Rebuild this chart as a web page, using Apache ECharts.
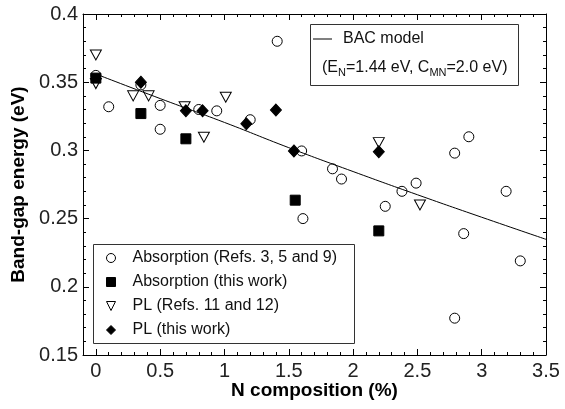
<!DOCTYPE html>
<html>
<head>
<meta charset="utf-8">
<script src="https://cdn.jsdelivr.net/npm/echarts@6/dist/echarts.min.js"></script>
<style>
html,body{margin:0;padding:0;background:#fff;}
#c{width:565px;height:409px;}
</style>
</head>
<body>
<div id="c"></div>
<script>
// Absorption (Refs. 3, 5 and 9) - open circles
const absRefs = [
  [0, 0.355], [0.1, 0.332], [0.35, 0.348], [0.5, 0.333], [0.5, 0.3155],
  [0.8, 0.330], [0.94, 0.329], [1.2, 0.3225], [1.41, 0.380], [1.6, 0.2996],
  [1.61, 0.250], [1.84, 0.2865], [1.91, 0.279], [2.25, 0.259], [2.38, 0.270],
  [2.49, 0.276], [2.79, 0.298], [2.79, 0.177], [2.86, 0.239], [2.9, 0.310],
  [3.19, 0.270], [3.3, 0.219]
];
// Absorption (this work) - filled squares
const absThis = [[0, 0.353], [0.35, 0.327], [0.7, 0.3085], [1.55, 0.2635], [2.2, 0.241]];
// PL (Refs. 11 and 12) - open down triangles
const plRefs = [
  [0, 0.370], [0, 0.349], [0.29, 0.340], [0.41, 0.340], [0.69, 0.332],
  [0.84, 0.3096], [1.01, 0.339], [2.2, 0.3057], [2.52, 0.260]
];
// PL (this work) - filled diamonds
const plThis = [[0.35, 0.350], [0.7, 0.329], [0.83, 0.329], [1.17, 0.3195], [1.4, 0.3296], [1.54, 0.2996], [2.2, 0.299]];
// BAC model curve
const bacX = [0, 0.5, 1, 1.5, 2, 2.5, 3, 3.5];
const bacY = [0.356, 0.338, 0.3205, 0.302, 0.2845, 0.2675, 0.251, 0.2348];

const xTickValues = [0, 0.5, 1, 1.5, 2, 2.5, 3, 3.5];
const yTickValues = [0.15, 0.2, 0.25, 0.3, 0.35, 0.4];

const FONT = 'Liberation Sans';
const chart = echarts.init(document.getElementById('c'), null, {renderer: 'canvas'});

const gridL = 83, gridR = 19, gridT = 14, gridB = 54;
const plotW = 565 - gridL - gridR;
const xMinMain = -0.1, xMaxMain = 3.5;
const grid2L = gridL + plotW * (0 - xMinMain) / (xMaxMain - xMinMain);

const openStyle = {color: 'rgba(255,255,255,0)', borderColor: '#000', borderWidth: 1, opacity: 1};
const fillStyle = {color: '#000', borderColor: '#000', borderWidth: 1, opacity: 1};
const downTri = 'path://M0,0 L10,0 L5,10 Z';

chart.setOption({
  animation: false,
  textStyle: {fontFamily: FONT},
  grid: [
    {left: gridL, right: gridR, top: gridT, bottom: gridB},
    {left: grid2L, right: gridR, top: gridT, bottom: gridB}
  ],
  xAxis: [
    {
      gridIndex: 0, type: 'value', min: xMinMain, max: xMaxMain, position: 'bottom',
      axisLine: {show: true, onZero: false, lineStyle: {color: '#000', width: 1}},
      axisTick: {show: false}, axisLabel: {show: false}, splitLine: {show: false},
      name: 'N composition (%)', nameLocation: 'middle', nameGap: 26,
      nameTextStyle: {fontFamily: FONT, fontSize: 19, fontWeight: 'bold', color: '#000'}
    },
    {
      gridIndex: 0, type: 'value', min: xMinMain, max: xMaxMain, position: 'top',
      axisLine: {show: true, onZero: false, lineStyle: {color: '#000', width: 1}},
      axisTick: {show: false}, axisLabel: {show: false}, splitLine: {show: false}
    },
    {
      gridIndex: 1, type: 'value', min: 0, max: 3.5, interval: 0.5, position: 'bottom',
      axisLine: {show: false, onZero: false},
      axisTick: {show: true, inside: true, length: 6, lineStyle: {color: '#000'}},
      minorTick: {show: true, splitNumber: 5, length: 3, lineStyle: {color: '#000'}},
      axisLabel: {show: true, margin: 6, fontSize: 20, color: '#222', fontFamily: FONT,
        formatter: v => (xTickValues.some(t => Math.abs(t - v) < 1e-9) ? String(+v.toFixed(2)) : '')},
      splitLine: {show: false}
    },
    {
      gridIndex: 1, type: 'value', min: 0, max: 3.5, interval: 0.5, position: 'top',
      axisLine: {show: false, onZero: false},
      axisTick: {show: true, inside: true, length: 6, lineStyle: {color: '#000'}},
      minorTick: {show: true, splitNumber: 5, length: 3, lineStyle: {color: '#000'}},
      axisLabel: {show: false}, splitLine: {show: false}
    }
  ],
  yAxis: [
    {
      gridIndex: 0, type: 'value', min: 0.15, max: 0.4, interval: 0.05, position: 'left',
      axisLine: {show: true, onZero: false, lineStyle: {color: '#000', width: 1}},
      axisTick: {show: true, inside: true, length: 6, lineStyle: {color: '#000'}},
      minorTick: {show: true, splitNumber: 5, length: 3, lineStyle: {color: '#000'}},
      axisLabel: {show: true, margin: 5, fontSize: 20, color: '#222', fontFamily: FONT,
        formatter: v => (yTickValues.some(t => Math.abs(t - v) < 1e-9) ? String(+v.toFixed(2)) : '')},
      splitLine: {show: false},
      name: 'Band-gap energy (eV)', nameLocation: 'middle', nameGap: 43,
      nameTextStyle: {fontFamily: FONT, fontSize: 19, fontWeight: 'bold', color: '#000'}
    },
    {
      gridIndex: 0, type: 'value', min: 0.15, max: 0.4, interval: 0.05, position: 'right',
      axisLine: {show: true, onZero: false, lineStyle: {color: '#000', width: 1}},
      axisTick: {show: true, inside: true, length: 6, lineStyle: {color: '#000'}},
      minorTick: {show: true, splitNumber: 5, length: 3, lineStyle: {color: '#000'}},
      axisLabel: {show: false}, splitLine: {show: false}
    },
    {gridIndex: 1, type: 'value', min: 0.15, max: 0.4, show: false}
  ],
  legend: [
    {
      id: 'bac', data: [{name: 'BAC model', icon: 'rect'}], left: 313, top: 31, orient: 'vertical', padding: 0,
      itemWidth: 19, itemHeight: 1,
      itemStyle: {color: '#000', borderWidth: 0},
      textStyle: {fontFamily: FONT, fontSize: 16, color: '#111', lineHeight: 16, padding: [0, 0, 0, 6]}
    },
    {
      id: 'pts',
      data: [
        {name: 'Absorption (Refs. 3, 5 and 9)', icon: 'circle'},
        {name: 'Absorption (this work)', icon: 'rect'},
        {name: 'PL (Refs. 11 and 12)', icon: downTri},
        {name: 'PL (this work)', icon: 'diamond'}
      ],
      left: 106, top: 250, orient: 'vertical', padding: 0, itemGap: 8,
      itemWidth: 9, itemHeight: 9,
      itemStyle: {borderWidth: 1},
      textStyle: {fontFamily: FONT, fontSize: 16, color: '#111', lineHeight: 16, padding: [0, 0, 0, 12]}
    }
  ],
  graphic: [
    {type: 'rect', shape: {x: 310.5, y: 24.5, width: 208, height: 61}, style: {fill: 'none', stroke: '#333', lineWidth: 1}, silent: true},
    {type: 'rect', shape: {x: 93.5, y: 244.5, width: 261, height: 99}, style: {fill: 'none', stroke: '#333', lineWidth: 1}, silent: true},
    {
      type: 'text', x: 322, y: 68, silent: true,
      style: {
        text: '(E{s|N}=1.44 eV, C{s|MN}=2.0 eV)',
        fontFamily: FONT, fontSize: 16, fill: '#111', verticalAlign: 'middle', lineHeight: 20,
        rich: {s: {fontFamily: FONT, fontSize: 11, fill: '#111', verticalAlign: 'bottom', lineHeight: 12}}
      }
    }
  ],
  series: [
    {
      name: 'BAC model', type: 'line', xAxisIndex: 0, yAxisIndex: 0,
      data: bacX.map((x, i) => [x, bacY[i]]), symbol: 'none', smooth: true,
      lineStyle: {color: '#000', width: 1}, itemStyle: {color: '#000'}, z: 1
    },
    {
      name: 'Absorption (Refs. 3, 5 and 9)', type: 'scatter', xAxisIndex: 0, yAxisIndex: 0,
      data: absRefs, symbol: 'circle', symbolSize: 10, itemStyle: openStyle, z: 2
    },
    {
      name: 'PL (Refs. 11 and 12)', type: 'scatter', xAxisIndex: 0, yAxisIndex: 0,
      data: plRefs, symbol: downTri, symbolSize: [11, 10], itemStyle: openStyle, z: 3
    },
    {
      name: 'Absorption (this work)', type: 'scatter', xAxisIndex: 0, yAxisIndex: 0,
      data: absThis, symbol: 'rect', symbolSize: 10, itemStyle: fillStyle, z: 4
    },
    {
      name: 'PL (this work)', type: 'scatter', xAxisIndex: 0, yAxisIndex: 0,
      data: plThis, symbol: 'diamond', symbolSize: [11, 12], itemStyle: fillStyle, z: 5
    }
  ]
});
</script>
</body>
</html>
